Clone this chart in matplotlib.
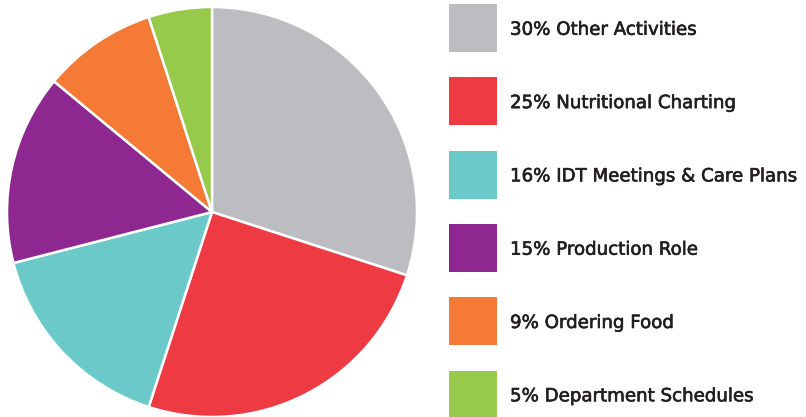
import matplotlib.pyplot as plt
import matplotlib.patheffects as pe
from matplotlib.patches import Rectangle

labels = ['Other Activities', 'Nutritional Charting', 'IDT Meetings & Care Plans',
          'Production Role', 'Ordering Food', 'Department Schedules']
shares = [30, 25, 16, 15, 9, 5]
colors = ['#bcbdc0', '#ee3a43', '#6bc9c9', '#8e278f', '#f47a35', '#97c94a']

W, H = 806, 417
fig = plt.figure(figsize=(W / 100, H / 100), dpi=100)

# pie, centred at (212, 212) px, radius 205 px
ax = fig.add_axes([7 / W, 0, 410 / W, 410 / H])
wedges, _ = ax.pie(shares, colors=colors, startangle=90, counterclock=False,
                   radius=1, wedgeprops=dict(edgecolor='white', linewidth=1.8))
for w in wedges:
    w.set_clip_on(False)
ax.set_xlim(-1, 1)
ax.set_ylim(-1, 1)
ax.set_aspect('equal')
ax.axis('off')

# legend drawn in pixel coordinates
lax = fig.add_axes([0, 0, 1, 1])
lax.set_xlim(0, W)
lax.set_ylim(H, 0)
lax.axis('off')
txt_col = '#231f20'
for i, (lab, s, c) in enumerate(zip(labels, shares, colors)):
    top = 4 + i * 73.3
    lax.add_patch(Rectangle((449, top), 48, 48, facecolor=c, edgecolor='none'))
    lax.text(510, top + 30.8, f'{s}% {lab}', fontsize=13.1, color=txt_col,
             family='DejaVu Sans', va='baseline', ha='left',
             path_effects=[pe.withStroke(linewidth=0.45, foreground=txt_col)])

fig.savefig('out.png', dpi=100)
